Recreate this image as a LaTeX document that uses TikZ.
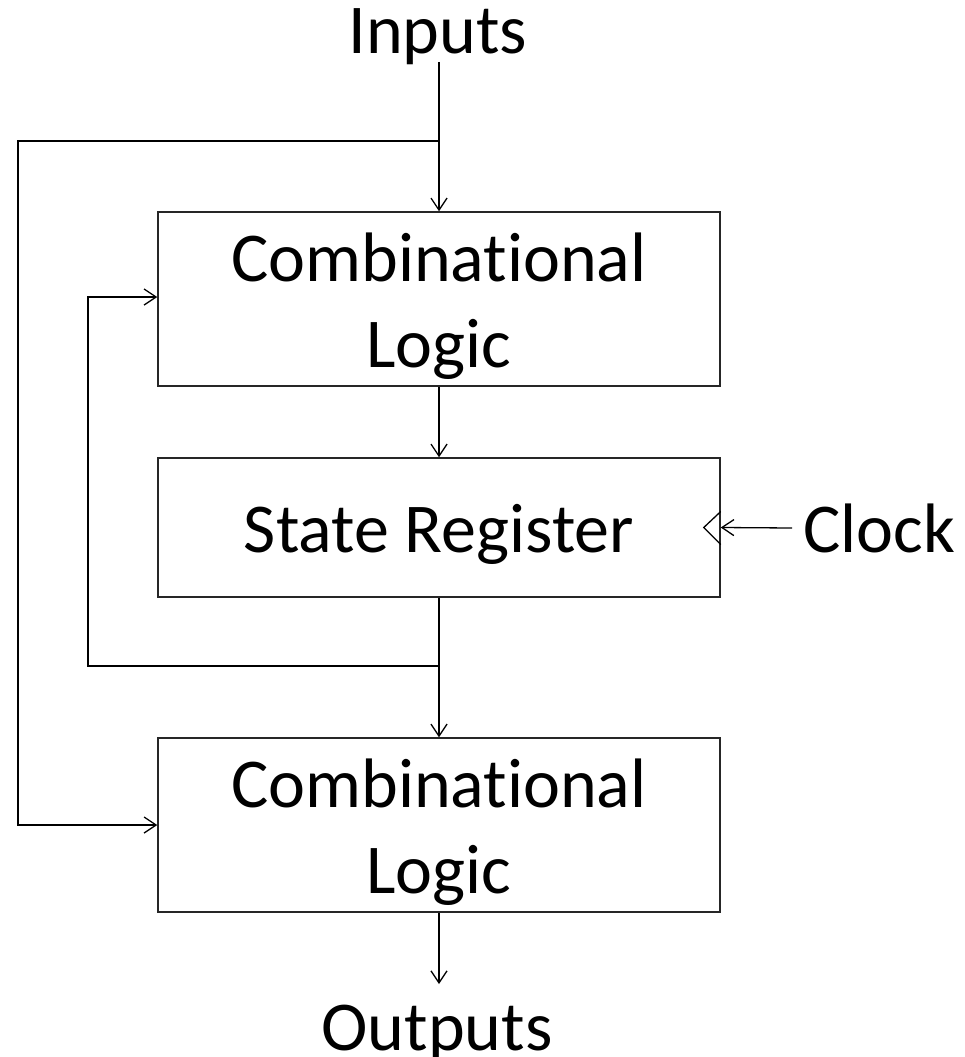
\documentclass[tikz,border=0pt]{standalone}
\usepackage{fontspec}
\setmainfont[Ligatures={NoCommon,NoRequired,NoContextual,NoDiscretionary}]{Carlito}
\usetikzlibrary{arrows.meta}
% lower a line of text without changing its reported size
\newcommand\lowered[1]{\raisebox{-7pt}[\height][\depth]{#1}}
\begin{document}
\begin{tikzpicture}[x=1pt,y=-1pt,
  every node/.style={font=\fontsize{70}{86}\selectfont},
  block/.style={draw=black!85,line width=1.5pt,minimum width=562pt,align=center,inner sep=0pt},
  wire/.style={line width=1.3pt,draw=black},
  flow/.style={wire,-{Straight Barb[length=12pt,width=16pt,line width=1.3pt]}},
  label/.style={inner sep=0pt,anchor=base}]
  \useasboundingbox (0,0) rectangle (964,1057);

  % labels
  \node[label] (in) at (438,53) {Inputs};
  \node[label] (out) at (437,1050) {Outputs};
  \node[label,anchor=base west] (clk) at (803,552) {Clock};

  % blocks
  \node[block,minimum height=174pt] (cl1) at (439,299) {\lowered{Combinational}\\\lowered{Logic}};
  \node[block,minimum height=139pt] (reg) at (439,527.5) {\lowered{State Register}};
  \node[block,minimum height=174pt] (cl2) at (439,825) {\lowered{Combinational}\\\lowered{Logic}};

  % routing points
  \coordinate (intop) at (439,62);
  \coordinate (split) at (439,141);
  \coordinate (lefttop) at (18,141);
  \coordinate (leftbot) at (18,825);
  \coordinate (fbsplit) at (439,666);
  \coordinate (fbbot) at (88,666);
  \coordinate (fbtop) at (88,297);
  \coordinate (outend) at (439,984);
  \coordinate (clkstart) at (792,528);

  % inputs
  \draw[flow] (intop) -- (cl1.north);
  \draw[flow] (split) -- (lefttop) -- (leftbot) -- (cl2.west);

  % main chain
  \draw[flow] (cl1.south) -- (reg.north);
  \draw[flow] (reg.south) -- (cl2.north);
  \draw[flow] (fbsplit) -- (fbbot) -- (fbtop) -- (fbtop -| cl1.west);
  \draw[flow] (cl2.south) -- (outend);

  % clock input with edge marker
  \draw[flow] (clkstart) -- (reg.east);
  \draw[wire,line join=miter] ([yshift=-17pt]reg.east) -- ([xshift=-17pt]reg.east) -- ([yshift=16pt]reg.east);
\end{tikzpicture}
\end{document}
